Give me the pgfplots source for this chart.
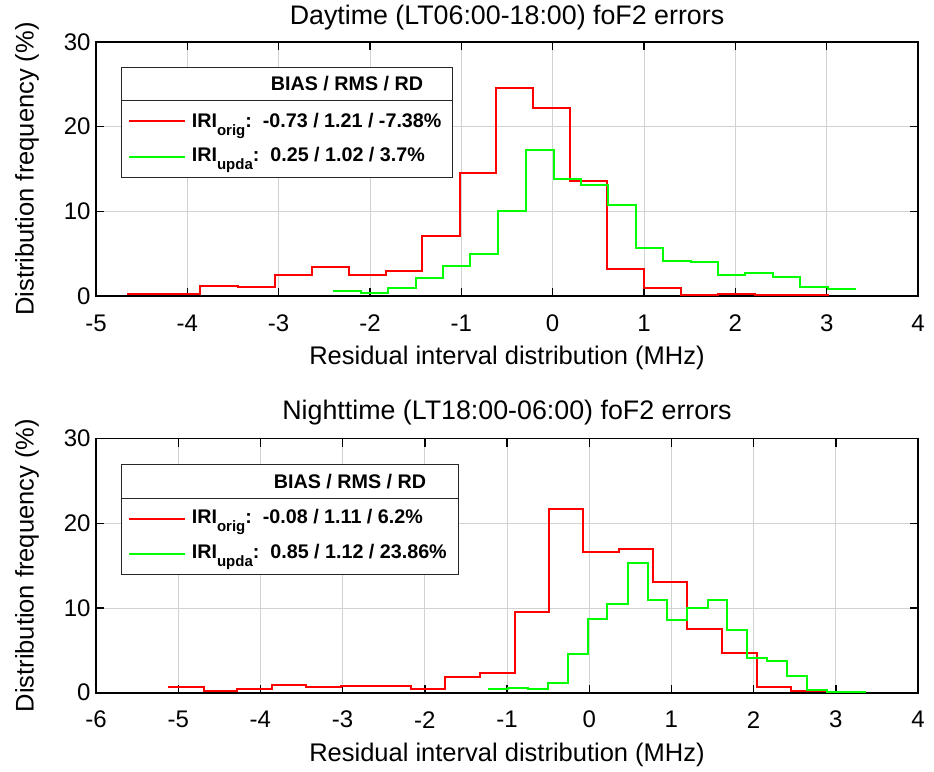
\documentclass[border=0pt]{standalone}
\usepackage{fontspec}
\setmainfont{Liberation Sans}
\usepackage{pgfplots}
\pgfplotsset{compat=1.18}
\definecolor{gridgray}{RGB}{210,210,210}
\definecolor{legframe}{RGB}{38,38,38}
\newcommand{\sub}[1]{\raisebox{-8pt}{\fontsize{15}{15}\selectfont #1}}

\pgfplotsset{histax/.style={
  scale only axis, width=822pt, height=254pt, anchor=south west,
  ymin=0, ymax=30, ytick={0,10,20,30},
  axis line style={line width=1.6pt},
  major tick style={line width=1.4pt, black},
  major tick length=8pt, tick align=inside,
  grid=major, major grid style={line width=0.9pt, gridgray},
  /pgf/number format/assume math mode=true,
  tick label style={font=\fontsize{24}{28}\selectfont},
  xticklabel style={anchor=center, yshift=-27pt},
  yticklabel style={xshift=-2pt},
  label style={font=\fontsize{25.5}{30}\selectfont},
  xlabel style={at={(axis description cs:0.5,0)}, anchor=center, yshift=-62pt},
  ylabel style={at={(axis description cs:-0.084,0.5)}, anchor=center},
  title style={font=\fontsize{26.8}{30}\selectfont, at={(axis description cs:0.5,1)}, anchor=base},
  xlabel={Residual interval distribution (MHz)},
  ylabel={Distribution frequency (\%)},
}}

\begin{document}
\begin{tikzpicture}[x=1pt,y=1pt]
\useasboundingbox (0,0) rectangle (934,771);

\begin{axis}[histax, at={(96pt,475pt)},
  xmin=-5, xmax=4, xtick={-5,...,4},
  title style={yshift=11pt},
  title={Daytime (LT06:00-18:00) foF2 errors}]
\addplot[red, line width=2pt, const plot mark left] coordinates {
(-4.66,0.25)(-4.26,0.25)(-3.86,1.22)(-3.45,1.02)(-3.04,2.52)(-2.64,3.38)(-2.23,2.52)
(-1.83,2.95)(-1.43,7.12)(-1.02,14.5)(-0.62,24.6)(-0.21,22.2)(0.19,13.6)(0.60,3.15)
(1.00,0.98)(1.41,0.1)(1.81,0.22)(2.22,0.1)(2.62,0.1)(3.03,0.1)};
\addplot[green, line width=2pt, const plot mark left] coordinates {
(-2.40,0.63)(-2.10,0.4)(-1.80,0.9)(-1.50,2.12)(-1.20,3.54)(-0.90,4.92)(-0.60,10.0)
(-0.29,17.3)(0.02,13.8)(0.31,13.1)(0.61,10.7)(0.91,5.71)(1.21,4.13)(1.51,4.05)
(1.81,2.48)(2.11,2.68)(2.41,2.2)(2.71,1.1)(3.01,0.79)(3.32,0.79)};
\end{axis}

\begin{axis}[histax, at={(96pt,78.3pt)},
  xmin=-6, xmax=4, xtick={-6,...,4},
  title style={yshift=13pt},
  title={Nighttime (LT18:00-06:00) foF2 errors}]
\addplot[red, line width=2pt, const plot mark left] coordinates {
(-5.12,0.64)(-4.69,0.2)(-4.29,0.47)(-3.86,0.95)(-3.44,0.64)(-3.02,0.79)(-2.60,0.79)
(-2.17,0.44)(-1.76,1.9)(-1.33,2.37)(-0.905,9.5)(-0.49,21.75)(-0.07,16.66)(0.36,16.97)
(0.77,13.07)(1.19,7.54)(1.61,4.7)(2.04,0.64)(2.46,0.24)(2.88,0.24)};
\addplot[green, line width=2pt, const plot mark left] coordinates {
(-1.23,0.4)(-0.99,0.55)(-0.75,0.47)(-0.50,1.15)(-0.26,4.58)(-0.02,8.72)(0.22,10.5)
(0.47,15.35)(0.71,10.9)(0.95,8.64)(1.19,10.0)(1.44,10.93)(1.68,7.46)(1.92,4.15)
(2.16,3.7)(2.41,2.0)(2.65,0.36)(2.89,0.12)(3.13,0.1)(3.37,0.1)};
\end{axis}

% legend boxes
\begin{scope}[font=\fontsize{19.7}{22}\selectfont\bfseries]
\draw[legframe, fill=white, line width=1pt] (121.7,593.7) rectangle (452.3,703.7);
\draw[legframe, line width=1pt] (121.7,670) -- (452.3,670);
\node at (347,687) {BIAS / RMS / RD};
\draw[red, line width=2pt] (129,650) -- (185,650);
\draw[green, line width=2pt] (129,614.3) -- (185,614.3);
\node[anchor=base west, inner sep=0pt] at (191.7,643.7) {IRI\sub{orig}:\ \ -0.73 / 1.21 / -7.38\%};
\node[anchor=base west, inner sep=0pt] at (191.7,609.3) {IRI\sub{upda}:\ \ 0.25 / 1.02 / 3.7\%};

\draw[legframe, fill=white, line width=1pt] (121.7,196) rectangle (458.3,306.7);
\draw[legframe, line width=1pt] (121.7,272.7) -- (458.3,272.7);
\node at (350,289.7) {BIAS / RMS / RD};
\draw[red, line width=2pt] (129,252.3) -- (185,252.3);
\draw[green, line width=2pt] (129,217) -- (185,217);
\node[anchor=base west, inner sep=0pt] at (191.7,247) {IRI\sub{orig}:\ \ -0.08 / 1.11 / 6.2\%};
\node[anchor=base west, inner sep=0pt] at (191.7,212) {IRI\sub{upda}:\ \ 0.85 / 1.12 / 23.86\%};
\end{scope}
\end{tikzpicture}
\end{document}
